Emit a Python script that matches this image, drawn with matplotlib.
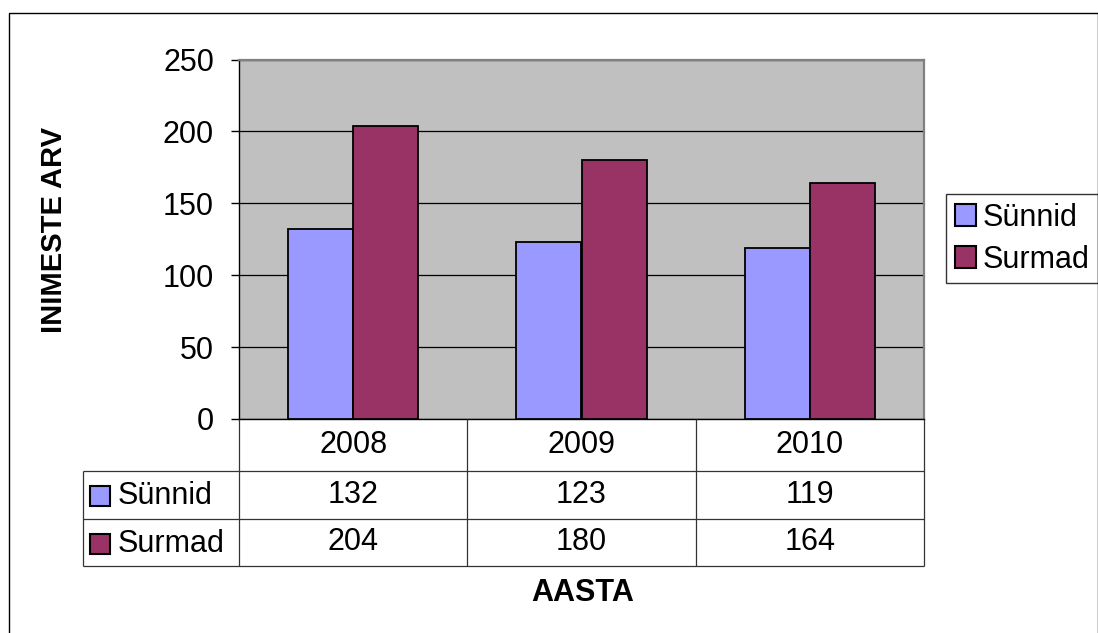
import numpy as np
import matplotlib
matplotlib.use('Agg')
import matplotlib.pyplot as plt
from matplotlib.patches import Rectangle

plt.rcParams['font.family'] = ['Liberation Sans', 'DejaVu Sans']

# data
years = ['2008', '2009', '2010']
synnid = [132, 123, 119]
surmad = [204, 180, 164]
series = ['Sünnid', 'Surmad']
colors = ['#9999FF', '#993366']

W, H = 1098, 633
FS = 22
fig = plt.figure(figsize=(W / 100, H / 100), dpi=100)


def box(l, t, r, b):
    # pixel box -> figure fraction
    return [l / W, 1 - b / H, (r - l) / W, (b - t) / H]


# bar chart
ax = fig.add_axes(box(239, 59.5, 924, 419))
x = np.arange(len(years))
bw = 1 / 3.5
ax.bar(x - bw / 2, synnid, bw, color=colors[0], edgecolor='black', lw=1.3, label=series[0], zorder=3)
ax.bar(x + bw / 2, surmad, bw, color=colors[1], edgecolor='black', lw=1.3, label=series[1], zorder=3)
ax.set_xlim(-0.5, 2.5)
ax.set_ylim(0, 250)
ax.set_facecolor('#C0C0C0')
ax.set_yticks(range(0, 251, 50))
ax.set_xticks([])
ax.yaxis.grid(True, color='black', lw=0.9)
ax.set_axisbelow(True)
for s in ['top', 'right']:
    ax.spines[s].set_color('#808080')
    ax.spines[s].set_linewidth(1.6)
for s in ['left', 'bottom']:
    ax.spines[s].set_color('black')
    ax.spines[s].set_linewidth(1.0)
ax.tick_params(axis='y', direction='out', length=6, width=1, pad=12, labelsize=FS)

# data table under the chart
cw = (924 - 239) / 3.0          # px per category
lab = (239 - 82.7) / cw         # width of the label column in category units
left = -0.5 - lab
tb = fig.add_axes(box(82.7, 419, 924, 566))
tb.set_xlim(left, 2.5)
tb.set_ylim(147, 0)
tb.axis('off')
edges = [0, 52, 100, 147]
lc = '#333333'
tb.vlines([-0.5, 0.5, 1.5, 2.5], 0, 147, color=lc, lw=0.9, clip_on=False)
tb.vlines([left], 52, 147, color=lc, lw=0.9, clip_on=False)
tb.hlines(edges[1:], left, 2.5, color=lc, lw=0.9, clip_on=False)

for i, yr in enumerate(years):
    tb.text(i, (edges[0] + edges[1]) / 2, yr, ha='center', va='center', fontsize=FS)
for r, (name, vals) in enumerate(zip(series, [synnid, surmad])):
    yc = (edges[r + 1] + edges[r + 2]) / 2
    tb.add_patch(Rectangle((left + 7.5 / cw, yc - 9), 20 / cw, 20,
                           facecolor=colors[r], edgecolor='black', lw=1.5, clip_on=False))
    tb.text(left + 35 / cw, yc + 1, name, ha='left', va='center', fontsize=FS)
    for i, v in enumerate(vals):
        tb.text(i, yc, str(v), ha='center', va='center', fontsize=FS)

# legend
leg = ax.legend(loc='upper left', bbox_to_anchor=(946 / W, 1 - 194 / H), bbox_transform=fig.transFigure,
                borderaxespad=0, fontsize=FS, frameon=True, fancybox=False, shadow=False,
                handlelength=0.7, handleheight=0.7, handletextpad=0.22, borderpad=0.28,
                labelspacing=0.4)
leg.get_frame().set_edgecolor('black')
leg.get_frame().set_linewidth(1.0)
for h in leg.legend_handles:
    h.set_linewidth(1.5)

# axis titles
fig.text(583 / W, 1 - 593 / H, 'AASTA', ha='center', va='center', fontsize=22, fontweight='bold')
fig.text(54 / W, 1 - 230 / H, 'INIMESTE ARV', ha='center', va='center', rotation=90,
         fontsize=21, fontweight='bold')

# chart border
fig.patches.append(Rectangle((9 / W, 1 - 660 / H), (1097.5 - 9) / W, (660 - 13) / H,
                             transform=fig.transFigure, fill=False, edgecolor='black', lw=1.0))

fig.savefig('out.png', dpi=100)
